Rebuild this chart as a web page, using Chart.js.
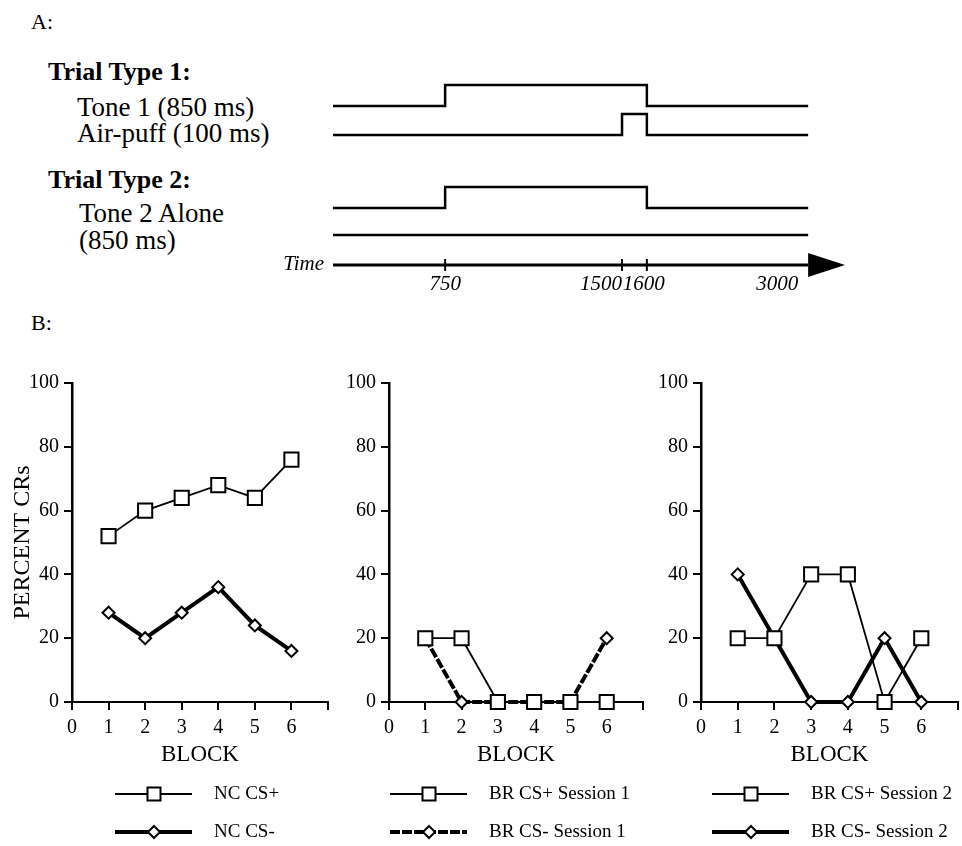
<!DOCTYPE html>
<html>
<head>
<meta charset="utf-8">
<script src="https://cdn.jsdelivr.net/npm/chart.js@4.4.1/dist/chart.umd.min.js"></script>
<style>
  html, body { margin: 0; padding: 0; background: #fff; overflow: hidden; }
  body { position: relative; width: 962px; height: 846px; font-family: 'Liberation Serif', 'Times New Roman', serif; color: #000; }
  .lbl { position: absolute; white-space: nowrap; line-height: 30px; font-size: 27px; }
  .bold { font-weight: bold; font-size: 26px; }
  canvas { position: absolute; }
</style>
</head>
<body>
<div class="lbl" style="left:31px;top:7px;font-size:22px">A:</div>
<div class="lbl bold" style="left:48px;top:57px">Trial Type 1:</div>
<div class="lbl" style="left:77px;top:92px">Tone 1 (850 ms)</div>
<div class="lbl" style="left:77px;top:118px">Air-puff (100 ms)</div>
<div class="lbl bold" style="left:48px;top:165px">Trial Type 2:</div>
<div class="lbl" style="left:79px;top:198px">Tone 2 Alone</div>
<div class="lbl" style="left:79px;top:225px">(850 ms)</div>
<div class="lbl" style="left:31px;top:308px;font-size:22px">B:</div>

<canvas id="timing" width="962" height="300" style="left:0;top:0"></canvas>
<canvas id="nc" width="340" height="506" style="left:0;top:340px"></canvas>
<canvas id="br1" width="315" height="506" style="left:340px;top:340px"></canvas>
<canvas id="br2" width="315" height="506" style="left:655px;top:340px"></canvas>

<script>
// ---- panel A: trial timing (levels hold from each time point to the next) ----
const timePoints = [0, 750, 1500, 1600, 3000];
const tone1Levels = [0, 1, 1, 0, 0];
const airPuffLevels = [0, 0, 1, 0, 0];
const tone2Levels = [0, 1, 1, 0, 0];
const noPuffLevels = [0, 0, 0, 0, 0];
const timeTickValues = [750, 1500, 1600];
const timeLabelValues = [750, 1500, 1600, 3000];
const trialEnd = 3000;

// ---- panel B: percent CRs per block ----
const blocks = [1, 2, 3, 4, 5, 6];
const ncCsPlus = [52, 60, 64, 68, 64, 76];
const ncCsMinus = [28, 20, 28, 36, 24, 16];
const brCsPlusS1 = [20, 20, 0, 0, 0, 0];
const brCsMinusS1 = [20, 0, 0, 0, 0, 20];
const brCsPlusS2 = [20, 20, 40, 40, 0, 20];
const brCsMinusS2 = [40, 20, 0, 0, 20, 0];
const blockTicks = [0, 1, 2, 3, 4, 5, 6, 7];

Chart.defaults.font.family = "'Liberation Serif', 'Times New Roman', serif";
Chart.defaults.color = '#000';

// the schematic time axis is not to scale: piecewise mapping of ms -> fraction of width
const timeBreaks = [[0, 0], [750, 0.219], [1500, 0.5645], [1600, 0.613], [3000, 0.928], [3300, 1]];

class BrokenTimeScale extends Chart.LinearScale {
    getPixelForValue(value) {
        let f = 1;
        for (let i = 1; i < timeBreaks.length; i++) {
            if (value <= timeBreaks[i][0]) {
                const a = timeBreaks[i - 1], b = timeBreaks[i];
                f = a[1] + (value - a[0]) / (b[0] - a[0]) * (b[1] - a[1]);
                break;
            }
        }
        return this.getPixelForDecimal(f);
    }
}
BrokenTimeScale.id = 'brokenTime';
BrokenTimeScale.defaults = {};
Chart.register(BrokenTimeScale);

// vertical row of each trace, in units of one pulse height
const rows = { tone1: 0, airPuff: -1.38, tone2: -4.86, noPuff: -6.14, axis: -7.57 };

function trace(levels, row) {
    return {
        data: timePoints.map((t, i) => ({ x: t, y: row + levels[i] })),
        stepped: 'before',
        borderColor: '#000',
        borderWidth: 2.5,
        pointRadius: 0,
        clip: false
    };
}

const timeAxisPlugin = {
    id: 'timeAxis',
    afterDatasetsDraw(chart, args, opts) {
        const ctx = chart.ctx;
        const xs = chart.scales.x, ys = chart.scales.y;
        const yy = ys.getPixelForValue(rows.axis);
        const x0 = xs.getPixelForValue(0);
        const x1 = xs.getPixelForValue(trialEnd);
        const tip = xs.getPixelForValue(xs.max);
        ctx.save();
        ctx.strokeStyle = '#000';
        ctx.fillStyle = '#000';
        ctx.lineWidth = 3;
        ctx.beginPath();
        ctx.moveTo(x0, yy);
        ctx.lineTo(x1, yy);
        ctx.stroke();
        ctx.beginPath();
        ctx.moveTo(x1, yy - 12);
        ctx.lineTo(tip, yy);
        ctx.lineTo(x1, yy + 12);
        ctx.closePath();
        ctx.fill();

        ctx.lineWidth = 2;
        timeTickValues.forEach(t => {
            const px = xs.getPixelForValue(t);
            ctx.beginPath();
            ctx.moveTo(px, yy - 6);
            ctx.lineTo(px, yy + 6);
            ctx.stroke();
        });

        ctx.font = 'italic 21px ' + Chart.defaults.font.family;
        ctx.textBaseline = 'middle';
        timeLabelValues.forEach((t, i) => {
            ctx.textAlign = opts.align[i];
            ctx.fillText(String(t), xs.getPixelForValue(t) + opts.shift[i], yy + 20);
        });
        ctx.textAlign = 'right';
        ctx.fillText('Time', x0 - 9, yy);
        ctx.restore();
    }
};

new Chart(document.getElementById('timing'), {
    type: 'line',
    data: {
        datasets: [
            trace(tone1Levels, rows.tone1),
            trace(airPuffLevels, rows.airPuff),
            trace(tone2Levels, rows.tone2),
            trace(noPuffLevels, rows.noPuff)
        ]
    },
    options: {
        responsive: false,
        animation: false,
        events: [],
        layout: { padding: { left: 333, right: 117, top: 74.5, bottom: 26 } },
        scales: {
            x: { type: 'brokenTime', min: 0, max: 3300, display: false },
            y: { type: 'linear', min: -8, max: 1.5, display: false }
        },
        plugins: {
            legend: { display: false },
            tooltip: { enabled: false },
            timeAxis: { align: ['center', 'right', 'center', 'right'], shift: [0, 0, -3, -10] }
        }
    },
    plugins: [timeAxisPlugin]
});

// legend with a line sample and marker under each panel
const lineLegendPlugin = {
    id: 'lineLegend',
    afterDraw(chart, args, opts) {
        const ctx = chart.ctx;
        chart.data.datasets.forEach((ds, i) => {
            const y = opts.rows[i];
            const x0 = opts.x, x1 = opts.x + 77, xm = opts.x + 39;
            ctx.save();
            ctx.strokeStyle = '#000';
            ctx.lineWidth = ds.borderWidth;
            ctx.setLineDash(ds.borderDash || []);
            ctx.beginPath();
            ctx.moveTo(x0, y);
            ctx.lineTo(x1, y);
            ctx.stroke();
            ctx.setLineDash([]);
            ctx.fillStyle = '#fff';
            ctx.lineWidth = 2;
            ctx.beginPath();
            if (ds.pointStyle === 'rect') {
                ctx.rect(xm - 6.5, y - 6.5, 13, 13);
            } else {
                ctx.moveTo(xm, y - 6);
                ctx.lineTo(xm + 6, y);
                ctx.lineTo(xm, y + 6);
                ctx.lineTo(xm - 6, y);
                ctx.closePath();
            }
            ctx.fill();
            ctx.stroke();
            ctx.fillStyle = '#000';
            ctx.font = '19px ' + Chart.defaults.font.family;
            ctx.textAlign = 'left';
            ctx.textBaseline = 'middle';
            ctx.fillText(ds.label, opts.x + 99, y);
            ctx.restore();
        });
    }
};

function series(label, values, kind, dash) {
    const plus = kind === 'plus';
    return {
        label: label,
        data: blocks.map((b, i) => ({ x: b, y: values[i] })),
        borderColor: '#000',
        borderWidth: plus ? 1.8 : 4,
        borderDash: dash || [],
        pointStyle: plus ? 'rect' : 'rectRot',
        pointRadius: plus ? 10 : 6,
        pointBackgroundColor: '#fff',
        pointBorderColor: '#000',
        pointBorderWidth: 2,
        tension: 0,
        clip: false
    };
}

function blockChart(id, datasets, opt) {
    return new Chart(document.getElementById(id), {
        type: 'line',
        data: { datasets: datasets },
        options: {
            responsive: false,
            animation: false,
            events: [],
            layout: { padding: { top: 43, right: opt.padRight, bottom: 74, left: 0 } },
            scales: {
                x: {
                    type: 'linear', min: 0, max: 7,
                    afterBuildTicks: s => { s.ticks = blockTicks.map(v => ({ value: v })); },
                    afterFit: s => { s.height = 70; },
                    ticks: { callback: v => (blocks.includes(v) || v === 0) ? v : '', font: { size: 20 }, padding: 6, maxRotation: 0, autoSkip: false },
                    grid: { drawOnChartArea: false, tickLength: 8, color: '#000', lineWidth: 2 },
                    border: { color: '#000', width: 2 },
                    title: { display: true, text: 'BLOCK', font: { size: 23 }, padding: { top: 0, bottom: 3 } }
                },
                y: {
                    min: 0, max: 100,
                    afterFit: s => { s.width = opt.axisWidth; },
                    ticks: { stepSize: 20, font: { size: 20 }, padding: 5 },
                    grid: { drawOnChartArea: false, tickLength: 8, color: '#000', lineWidth: 2 },
                    border: { color: '#000', width: 2.5 },
                    title: { display: opt.yTitle, text: 'PERCENT CRs', font: { size: 24 }, padding: { top: 8, bottom: 0 } }
                }
            },
            plugins: {
                legend: { display: false },
                tooltip: { enabled: false },
                lineLegend: { x: opt.legendX, rows: [454, 492] }
            }
        },
        plugins: [lineLegendPlugin]
    });
}

blockChart('nc', [
    series('NC CS+', ncCsPlus, 'plus'),
    series('NC CS-', ncCsMinus, 'minus')
], { axisWidth: 72, padRight: 5, legendX: 115, yTitle: true });

blockChart('br1', [
    series('BR CS+ Session 1', brCsPlusS1, 'plus'),
    series('BR CS- Session 1', brCsMinusS1, 'minus', [10, 2])
], { axisWidth: 49, padRight: 5, legendX: 50, yTitle: false });

blockChart('br2', [
    series('BR CS+ Session 2', brCsPlusS2, 'plus'),
    series('BR CS- Session 2', brCsMinusS2, 'minus')
], { axisWidth: 46, padRight: 7, legendX: 57, yTitle: false });
</script>
</body>
</html>
